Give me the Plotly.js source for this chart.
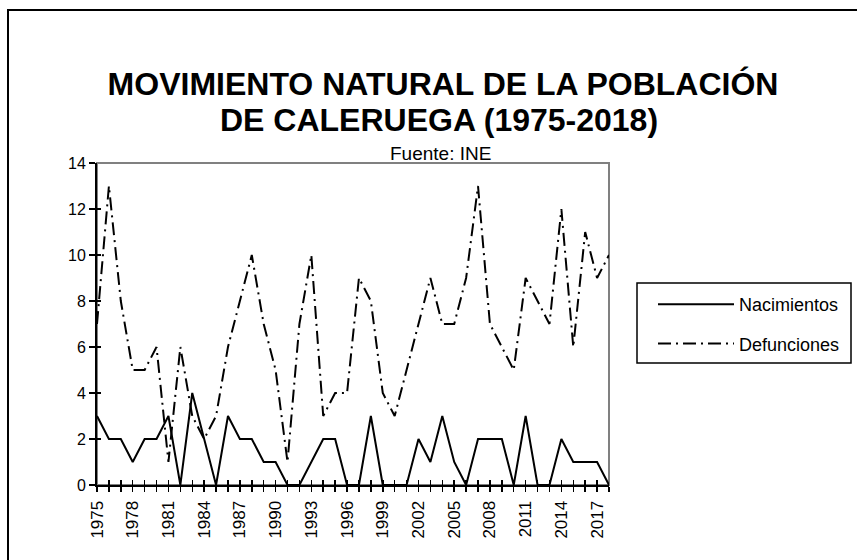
<!DOCTYPE html>
<html>
<head>
<meta charset="utf-8">
<script src="https://cdn.plot.ly/plotly-3.0.1.min.js"></script>
<style>html,body{margin:0;padding:0;background:#fff;}#chart{width:857px;height:560px;}</style>
</head>
<body>
<div id="chart"></div>
<script>
const years = [1975,1976,1977,1978,1979,1980,1981,1982,1983,1984,1985,1986,1987,1988,1989,1990,1991,1992,1993,1994,1995,1996,1997,1998,1999,2000,2001,2002,2003,2004,2005,2006,2007,2008,2009,2010,2011,2012,2013,2014,2015,2016,2017,2018];
const nacimientos = [3,2,2,1,2,2,3,0,4,2,0,3,2,2,1,1,0,0,1,2,2,0,0,3,0,0,0,2,1,3,1,0,2,2,2,0,3,0,0,2,1,1,1,0];
const defunciones = [7,13,8,5,5,6,1,6,3,2,3,6,8,10,7,5,1,7,10,3,4,4,9,8,4,3,5,7,9,7,7,9,13,7,6,5,9,8,7,12,6,11,9,10];
const yTicks = [0,2,4,6,8,10,12,14];
const titleLine1 = 'MOVIMIENTO NATURAL DE LA POBLACIÓN';
const titleLine2 = 'DE CALERUEGA (1975-2018)';
const sourceText = 'Fuente: INE';
const seriesNames = ['Nacimientos','Defunciones'];

const F = 'Arial, "Liberation Sans", sans-serif';
const px = v => (v - 97) / 512;          // pixel x -> paper x
const py = v => (485 - v) / 322;         // pixel y -> paper y

const traces = [
  {x: years, y: nacimientos, name: seriesNames[0], type:'scatter', mode:'lines',
   line:{color:'#000', width:2}, legendgroup:'a'},
  {x: years, y: defunciones, name: seriesNames[1], type:'scatter', mode:'lines',
   line:{color:'#000', width:2, dash:'13px,5px,2px,5px'}, legendgroup:'b'},
  {x: years, y: nacimientos, xaxis:'x2', yaxis:'y2', type:'scatter', mode:'lines',
   line:{width:0, color:'rgba(0,0,0,0)'}, showlegend:false, hoverinfo:'skip'}
];

const layout = {
  width: 857, height: 560,
  margin: {l:97, r:248, t:163, b:75},
  paper_bgcolor:'#fff', plot_bgcolor:'#fff',
  font: {family: F, color:'#000'},
  showlegend: true,
  title: {text: titleLine1, font:{family:F, size:32, weight:'bold', color:'#000'},
          x: 443/857, xanchor:'center', xref:'container', y: 1-84/560, yanchor:'middle', yref:'container'},
  xaxis: {range:[1975,2018], tick0:1975, dtick:1, ticklabelstep:3, ticks:'outside', ticklen:5,
          tickwidth:1.5, tickcolor:'#000', showline:true, linecolor:'#000', linewidth:2,
          showgrid:false, zeroline:false, tickangle:-90, ticklabelstandoff:2,
          tickfont:{family:F, size:17, color:'#000'}},
  xaxis2: {overlaying:'x', matches:'x', tick0:1975, dtick:1, ticks:'inside', ticklen:5,
           tickwidth:1.5, tickcolor:'#000', showticklabels:false, showline:false, showgrid:false, zeroline:false},
  yaxis: {range:[0,14], tickvals:yTicks, ticks:'outside', ticklen:6, tickwidth:1.5, tickcolor:'#000',
          showline:true, linecolor:'#000', linewidth:2, showgrid:false, zeroline:false,
          tickfont:{family:F, size:16, color:'#000'}},
  yaxis2: {overlaying:'y', matches:'y', tickvals:yTicks, ticks:'inside', ticklen:4, tickwidth:1.5,
           tickcolor:'#000', showticklabels:false, showline:false, showgrid:false, zeroline:false},
  legend: {x:px(653), xanchor:'left', y:py(286), yanchor:'top', borderwidth:0,
           font:{family:F, size:18, color:'#000'}, itemwidth:76, tracegroupgap:13, traceorder:'grouped',
           bgcolor:'rgba(0,0,0,0)'},
  annotations: [
    {text: titleLine2, xref:'paper', yref:'paper', x:px(439), y:py(120), showarrow:false,
     xanchor:'center', yanchor:'middle', font:{family:F, size:32, weight:'bold', color:'#000'}},
    {text: sourceText, xref:'paper', yref:'paper', x:px(440), y:py(153), showarrow:false,
     xanchor:'center', yanchor:'middle', font:{family:F, size:19, color:'#000'}}
  ],
  shapes: [
    {type:'rect', xref:'paper', yref:'paper', x0:0, x1:1, y0:0, y1:1, line:{color:'#808080', width:2}, layer:'below'},
    {type:'rect', xref:'paper', yref:'paper', x0:px(637), x1:px(851), y0:py(363), y1:py(283),
     line:{color:'#000', width:1.5}, fillcolor:'#fff', layer:'below'},
    {type:'rect', xref:'paper', yref:'paper', x0:px(8), x1:1.7, y0:-0.5, y1:py(10), line:{color:'#000', width:2}}
  ]
};

Plotly.newPlot('chart', traces, layout, {displayModeBar:false, staticPlot:true});
</script>
</body>
</html>
